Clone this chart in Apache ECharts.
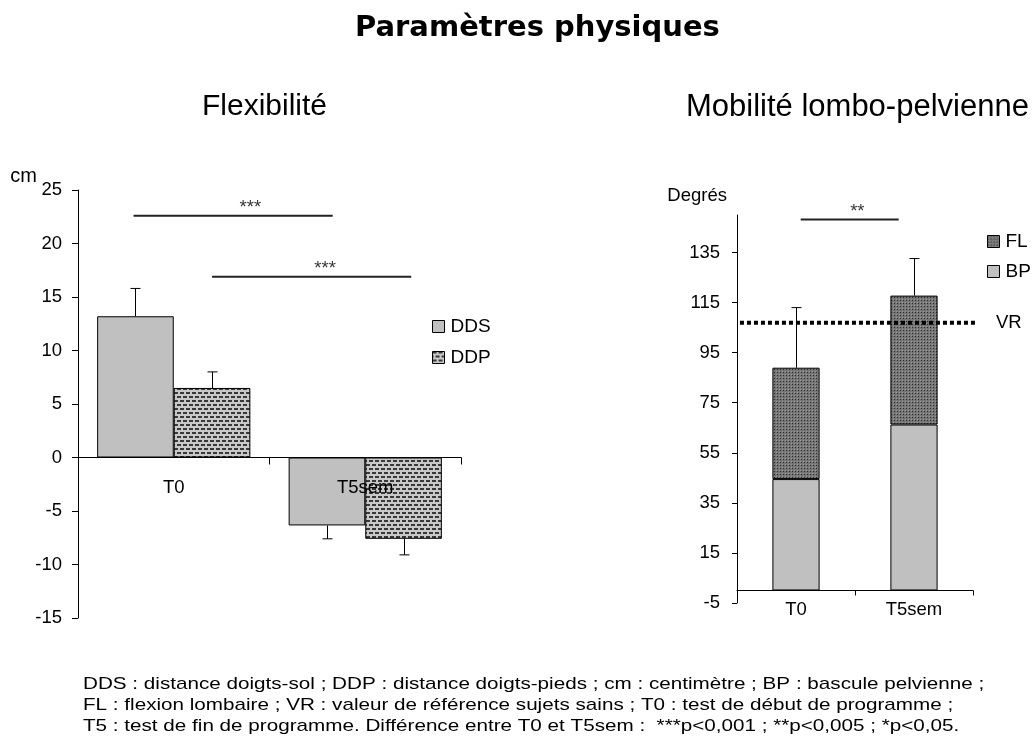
<!DOCTYPE html>
<html>
<head>
<meta charset="utf-8">
<title>Paramètres physiques</title>
<script src="https://cdn.jsdelivr.net/npm/echarts@6/dist/echarts.min.js"></script>
<style>
  html, body { margin: 0; padding: 0; background: #fff; }
  #chart { width: 1032px; height: 742px; }
</style>
</head>
<body>
<div id="chart"></div>
<script>
// Flexibilité (cm)
const flexCategories = ['T0', 'T5sem']
const ddsValues = [13.2, -6.35]
const ddsSd = [2.6, 1.25]
const ddpValues = [6.5, -7.6]
const ddpSd = [1.5, 1.5]

// Mobilité lombo-pelvienne (degrés)
const mobCategories = ['T0', 'T5sem']
const bpValues = [44.5, 66.3]
const flValues = [44.5, 51.5]
const mobSd = [24, 14.8]
const vrValue = 107

// barres de significativité (position en unités de catégorie)
const flexSig = [
  { from: 0.29, to: 1.33, at: 0.90, y: 22.6, label: '***' },
  { from: 0.70, to: 1.74, at: 1.29, y: 16.9, label: '***' }
]
const mobSig = [
  { from: 0.54, to: 1.37, at: 1.02, y: 148.2, label: '**' }
]

const footNote = [
  'DDS : distance doigts-sol ; DDP : distance doigts-pieds ; cm : centimètre ; BP : bascule pelvienne ;',
  'FL : flexion lombaire ; VR : valeur de référence sujets sains ; T0 : test de début de programme ;',
  'T5 : test de fin de programme. Différence entre T0 et T5sem :  ***p<0,001 ; **p<0,005 ; *p<0,05.'
]

const FONT = 'Liberation Sans, Arial, sans-serif'

// axes
const flexMin = -15, flexMax = 25, flexStep = 5
const mobMin = -5, mobMax = 150, mobStep = 20
const flexGrid = { left: 78, top: 190, width: 383, height: 428 }
const mobGrid = { left: 737, top: 215, width: 236, height: 388 }

function makePattern(w, h, bg, fg, cells) {
  const c = document.createElement('canvas')
  c.width = w
  c.height = h
  const ctx = c.getContext('2d')
  ctx.fillStyle = bg
  ctx.fillRect(0, 0, w, h)
  cells.forEach(r => {
    ctx.fillStyle = r[4] || fg
    ctx.fillRect(r[0], r[1], r[2], r[3])
  })
  return { image: c, repeat: 'repeat' }
}

const ddpFill = makePattern(6, 8, '#c8c8c8', '#383838', [[0, 0, 4, 2], [3, 4, 3, 2], [0, 4, 1, 2]])
const flFill = makePattern(3, 3, '#767676', '#2c2c2c', [[0, 0, 1, 1], [2, 2, 1, 1, '#9a9a9a']])

// barres d'erreur (slot = décalage dans la catégorie, en fraction de largeur)
function errorSeries(xAxisIndex, yAxisIndex, values, sds, slot) {
  return {
    type: 'custom',
    xAxisIndex: xAxisIndex,
    yAxisIndex: yAxisIndex,
    z: 3,
    silent: true,
    data: values.map((v, i) => [i, v, v >= 0 ? v + sds[i] : v - sds[i]]),
    renderItem(params, api) {
      const band = api.size([1, 0])[0]
      const p0 = api.coord([api.value(0), api.value(1)])
      const p1 = api.coord([api.value(0), api.value(2)])
      const x = Math.round(p0[0] + slot * band) + 0.5
      const st = { stroke: '#000', lineWidth: 1 }
      return {
        type: 'group',
        children: [
          { type: 'line', shape: { x1: x, y1: p0[1], x2: x, y2: p1[1] }, style: st },
          { type: 'line', shape: { x1: x - 5, y1: p1[1], x2: x + 5, y2: p1[1] }, style: st }
        ]
      }
    }
  }
}

function sigSeries(xAxisIndex, yAxisIndex, list) {
  const lines = list.map(s => ({
    type: 'line',
    xAxisIndex: xAxisIndex,
    yAxisIndex: yAxisIndex,
    data: [[s.from, s.y], [s.to, s.y]],
    symbol: 'none',
    silent: true,
    z: 4,
    lineStyle: { color: '#222', width: 2 }
  }))
  lines.push({
    type: 'scatter',
    xAxisIndex: xAxisIndex,
    yAxisIndex: yAxisIndex,
    data: list.map(s => [s.at, s.y, s.label]),
    symbolSize: 1,
    silent: true,
    itemStyle: { color: 'rgba(0,0,0,0)' },
    label: {
      show: true,
      position: 'top',
      distance: -2,
      formatter: p => p.value[2],
      fontSize: 18.5,
      color: '#000',
      fontFamily: FONT
    }
  })
  return lines
}

// décalage de l'axe des catégories pour qu'il passe par 0 (libellés et graduations compris)
function zeroOffset(min, max, height) {
  return -(0 - min) / (max - min) * height
}

const chart = echarts.init(document.getElementById('chart'))

const tickLabel = { color: '#000', fontSize: 18.5, fontFamily: FONT }
const blackLine = { onZero: false, lineStyle: { color: '#000', width: 1 } }

const option = {
  animation: false,
  textStyle: { fontFamily: FONT, color: '#000' },
  title: [
    {
      text: 'Paramètres physiques', left: 355, top: 14, padding: 0,
      textStyle: { fontFamily: 'DejaVu Sans', fontWeight: 'bold', fontSize: 29, color: '#000' }
    },
    {
      text: 'Flexibilité', left: 202, top: 92, padding: 0,
      textStyle: { fontFamily: FONT, fontWeight: 'normal', fontSize: 30, color: '#000' }
    },
    {
      text: 'Mobilité lombo-pelvienne', left: 686, top: 92, padding: 0,
      textStyle: { fontFamily: FONT, fontWeight: 'normal', fontSize: 31, color: '#000' }
    }
  ],
  graphic: [
    {
      type: 'text', x: 83, y: 674, scaleX: 1.215, silent: true,
      style: { text: footNote.join('\n'), fontFamily: FONT, fontSize: 17, lineHeight: 21, fill: '#000' }
    }
  ],
  legend: [
    {
      data: ['DDS', 'DDP'], orient: 'vertical', left: 432, top: 317, padding: 0,
      itemWidth: 12, itemHeight: 12, itemGap: 12, icon: 'rect',
      itemStyle: { borderColor: '#000', borderWidth: 1 },
      textStyle: { fontSize: 19, color: '#000', fontFamily: FONT, padding: [0, 0, 0, 1] }
    },
    {
      data: ['FL', 'BP'], orient: 'vertical', left: 987, top: 232, padding: 0,
      itemWidth: 12, itemHeight: 12, itemGap: 11, icon: 'rect',
      itemStyle: { borderColor: '#000', borderWidth: 1 },
      textStyle: { fontSize: 19, color: '#000', fontFamily: FONT, padding: [0, 0, 0, 1] }
    }
  ],
  grid: [
    Object.assign({ containLabel: false, outerBoundsMode: 'none' }, flexGrid),
    Object.assign({ containLabel: false, outerBoundsMode: 'none' }, mobGrid)
  ],
  xAxis: [
    {
      type: 'category', gridIndex: 0, data: flexCategories, z: 10,
      offset: zeroOffset(flexMin, flexMax, flexGrid.height),
      axisLine: blackLine,
      axisTick: { show: true, alignWithLabel: false, length: 7, lineStyle: { color: '#000', width: 1 } },
      axisLabel: Object.assign({ margin: 21 }, tickLabel)
    },
    {
      type: 'category', gridIndex: 1, data: mobCategories, z: 10,
      offset: zeroOffset(mobMin, mobMax, mobGrid.height),
      axisLine: blackLine,
      axisTick: { show: true, alignWithLabel: false, length: 5, lineStyle: { color: '#000', width: 1 } },
      axisLabel: Object.assign({ margin: 10 }, tickLabel)
    },
    { type: 'value', gridIndex: 0, min: 0, max: 2, show: false },
    { type: 'value', gridIndex: 1, min: 0, max: 2, show: false }
  ],
  yAxis: [
    {
      type: 'value', gridIndex: 0, min: flexMin, max: flexMax, interval: flexStep,
      name: 'cm', nameLocation: 'end', nameGap: 4,
      nameTextStyle: { fontSize: 20, color: '#000', fontFamily: FONT, align: 'right', verticalAlign: 'bottom', padding: [0, 41, 0, 0] },
      axisLine: { show: true, onZero: false, lineStyle: { color: '#000', width: 1 } },
      axisTick: { show: true, length: 6, lineStyle: { color: '#000' } },
      splitLine: { show: false },
      axisLabel: Object.assign({ margin: 16 }, tickLabel)
    },
    {
      type: 'value', gridIndex: 1, min: mobMin, max: mobMax, interval: mobStep,
      name: 'Degrés', nameLocation: 'end', nameGap: 10,
      nameTextStyle: { fontSize: 18.5, color: '#000', fontFamily: FONT, align: 'right', verticalAlign: 'bottom', padding: [0, 10, 0, 0] },
      axisLine: { show: true, onZero: false, lineStyle: { color: '#000', width: 1 } },
      axisTick: { show: true, length: 5, lineStyle: { color: '#000' } },
      splitLine: { show: false },
      axisLabel: Object.assign({ margin: 17, showMaxLabel: false }, tickLabel)
    }
  ],
  series: [
    {
      name: 'DDS', type: 'bar', xAxisIndex: 0, yAxisIndex: 0, data: ddsValues,
      barGap: '0%', barCategoryGap: '20%',
      itemStyle: { color: '#c0c0c0', borderColor: '#000', borderWidth: 1 }
    },
    {
      name: 'DDP', type: 'bar', xAxisIndex: 0, yAxisIndex: 0, data: ddpValues,
      barGap: '0%', barCategoryGap: '20%',
      itemStyle: { color: ddpFill, borderColor: '#000', borderWidth: 1 }
    },
    errorSeries(0, 0, ddsValues, ddsSd, -0.2),
    errorSeries(0, 0, ddpValues, ddpSd, 0.2),
    ...sigSeries(2, 0, flexSig),

    {
      name: 'BP', type: 'bar', stack: 'mob', xAxisIndex: 1, yAxisIndex: 1, data: bpValues,
      barWidth: '40%',
      itemStyle: { color: '#c0c0c0', borderColor: '#000', borderWidth: 1 }
    },
    {
      name: 'FL', type: 'bar', stack: 'mob', xAxisIndex: 1, yAxisIndex: 1, data: flValues,
      barWidth: '40%',
      itemStyle: { color: flFill, borderColor: '#000', borderWidth: 1 }
    },
    errorSeries(1, 1, bpValues.map((v, i) => v + flValues[i]), mobSd, 0),
    ...sigSeries(3, 1, mobSig),
    {
      type: 'line', xAxisIndex: 3, yAxisIndex: 1,
      data: [[0.025, vrValue], [2.076, vrValue]],
      symbol: 'none', silent: true, clip: false, z: 5,
      lineStyle: { color: '#000', width: 4, type: [4, 3] },
      endLabel: { show: true, formatter: 'VR', distance: 21, fontSize: 18.5, color: '#000', fontFamily: FONT }
    }
  ]
}

chart.setOption(option)
</script>
</body>
</html>
